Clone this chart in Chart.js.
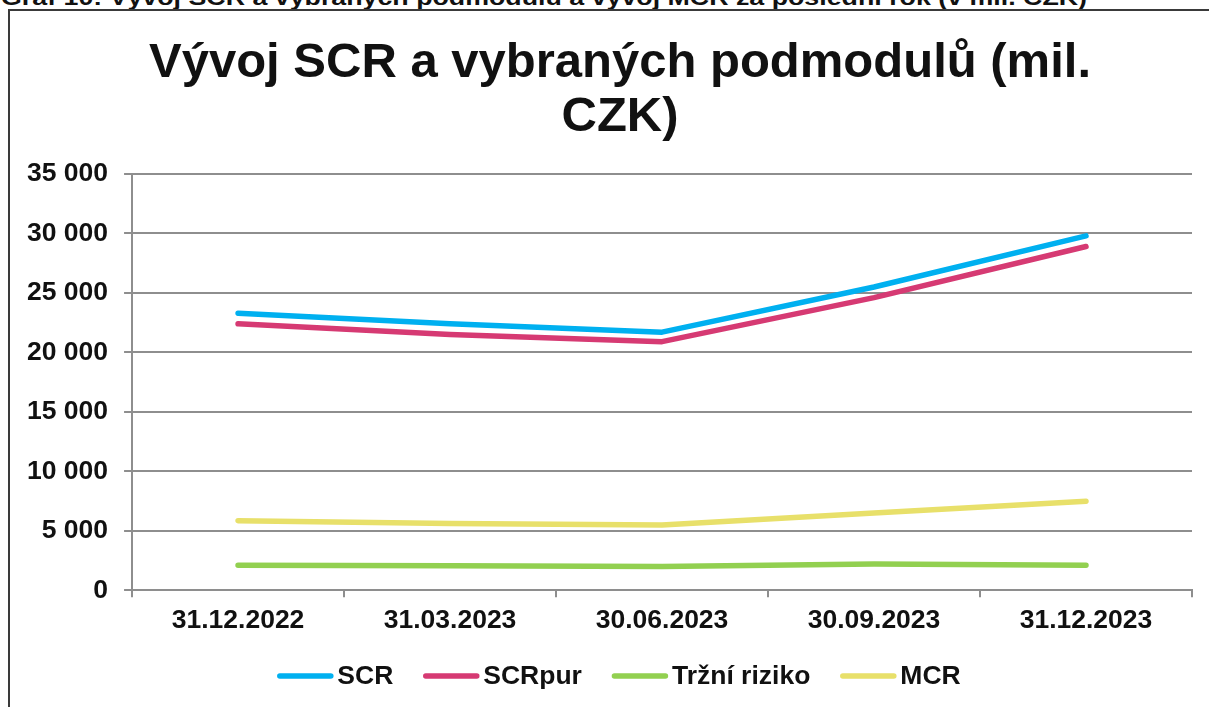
<!DOCTYPE html>
<html>
<head>
<meta charset="utf-8">
<script src="https://cdn.jsdelivr.net/npm/chart.js@4/dist/chart.umd.min.js"></script>
<style>
  html, body { margin: 0; padding: 0; background: #fff; overflow: hidden; width: 1209px; height: 707px; }
  #caption { position: absolute; left: 1px; top: -15px; line-height: 22px; font: bold 22px "Liberation Sans Narrow", "Liberation Sans", Arial, sans-serif; color: #111; white-space: nowrap; transform-origin: 0 0; }
  #wrap { position: absolute; left: 8px; top: 9px; width: 1224px; height: 710px; border: 2px solid #3a3a3a; box-sizing: border-box; }
  #chart { display: block; }
</style>
</head>
<body>
<div id="caption">Graf 10: Vývoj SCR a vybraných podmodulů a vývoj MCR za poslední rok (v mil. CZK)</div>
<div id="wrap"><canvas id="chart" width="1220" height="696"></canvas></div>
<script>
const categories = ['31.12.2022', '31.03.2023', '30.06.2023', '30.09.2023', '31.12.2023'];
const scrValues = [23300, 22400, 21700, 25500, 29800];
const scrPurValues = [22400, 21500, 20900, 24600, 28900];
const trzniRizikoValues = [2100, 2050, 2000, 2200, 2100];
const mcrValues = [5850, 5600, 5480, 6500, 7480];
const seriesNames = ['SCR', 'SCRpur', 'Tržní riziko', 'MCR'];
const seriesColors = ['#00B0F0', '#D63A73', '#92D050', '#E8E06A'];
const yTicks = { min: 0, max: 35000, step: 5000 };
const titleLines = ['Vývoj SCR a vybraných podmodulů (mil.', 'CZK)'];

// fit caption width
(function () {
  const c = document.getElementById('caption');
  const w = c.getBoundingClientRect().width;
  c.style.transform = 'scaleX(' + (1086 / w) + ')';
})();

const FONT = "'Liberation Sans', Arial, sans-serif";
const GRID = '#8E8E8E';
const TEXT = '#111';
const TICK_SIZE = 26.5;
const fmt = v => String(v).replace(/\B(?=(\d{3})+(?!\d))/g, ' ');

const allSeries = [scrValues, scrPurValues, trzniRizikoValues, mcrValues];
const datasets = allSeries.map((vals, i) => ({
  label: seriesNames[i],
  data: vals,
  borderColor: seriesColors[i],
  backgroundColor: seriesColors[i],
  borderWidth: 5.5,
  borderCapStyle: 'round',
  borderJoinStyle: 'round',
  pointRadius: 0,
  pointHoverRadius: 0,
  tension: 0,
  fill: false
}));

// Title drawn centred over the whole frame (as in the original, not over the plot box)
const frameTitle = {
  id: 'frameTitle',
  afterDraw(chart) {
    const ctx = chart.ctx;
    ctx.save();
    ctx.font = 'bold 49px ' + FONT;
    ctx.fillStyle = TEXT;
    ctx.textAlign = 'center';
    ctx.textBaseline = 'alphabetic';
    const cx = 610;
    titleLines.forEach((t, i) => ctx.fillText(t, cx, 66 + i * 54));
    ctx.restore();
  }
};

// Legend drawn centred over the frame
const frameLegend = {
  id: 'frameLegend',
  afterDraw(chart) {
    const ctx = chart.ctx;
    ctx.save();
    ctx.font = 'bold ' + TICK_SIZE + 'px ' + FONT;
    const lineLen = 56, gapText = 4, gapItem = 30;
    const items = chart.data.datasets.map(ds => ({ text: ds.label, color: ds.borderColor, w: ctx.measureText(ds.label).width }));
    const total = items.reduce((s, it) => s + lineLen + gapText + it.w, 0) + gapItem * (items.length - 1);
    let x = 609 - total / 2;
    const y = 665;
    items.forEach(it => {
      ctx.beginPath();
      ctx.lineWidth = 5.5;
      ctx.lineCap = 'round';
      ctx.strokeStyle = it.color;
      ctx.moveTo(x + 2.5, y);
      ctx.lineTo(x + lineLen - 2.5, y);
      ctx.stroke();
      ctx.fillStyle = TEXT;
      ctx.textAlign = 'left';
      ctx.textBaseline = 'middle';
      ctx.fillText(it.text, x + lineLen + gapText, y + 1);
      x += lineLen + gapText + it.w + gapItem;
    });
    ctx.restore();
  }
};

new Chart(document.getElementById('chart'), {
  type: 'line',
  data: { labels: categories, datasets },
  plugins: [frameTitle, frameLegend],
  options: {
    responsive: false,
    animation: false,
    devicePixelRatio: 1,
    layout: { padding: { left: 1, right: 38, top: 163, bottom: 62 } },
    plugins: {
      tooltip: { enabled: false },
      title: { display: false },
      legend: { display: false }
    },
    scales: {
      x: {
        offset: true,
        grid: { display: true, drawOnChartArea: false, drawTicks: true, tickLength: 7, color: GRID, lineWidth: 2, offset: true },
        border: { display: true, color: GRID, width: 2 },
        ticks: { color: TEXT, padding: 8, maxRotation: 0, font: { family: FONT, size: TICK_SIZE, weight: 'bold' } }
      },
      y: {
        min: yTicks.min,
        max: yTicks.max,
        grid: { color: GRID, lineWidth: 2, tickLength: 8, drawTicks: true },
        border: { display: true, color: GRID, width: 2 },
        ticks: { stepSize: yTicks.step, color: TEXT, padding: 16, font: { family: FONT, size: TICK_SIZE, weight: 'bold' }, callback: v => fmt(v) }
      }
    }
  }
});
</script>
</body>
</html>
